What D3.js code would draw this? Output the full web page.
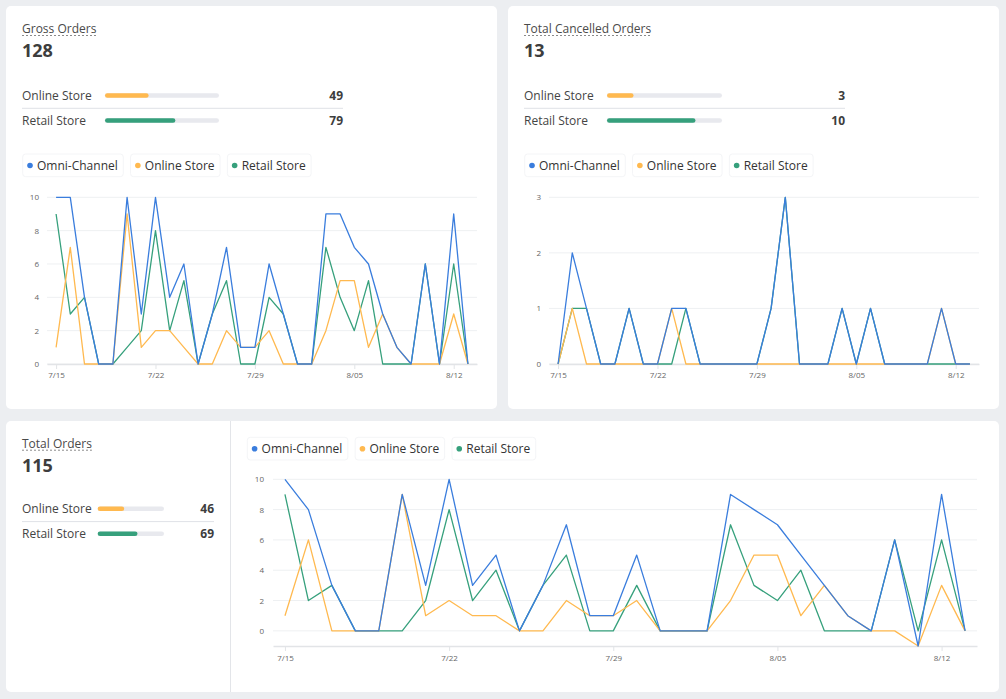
<!DOCTYPE html>
<html>
<head>
<meta charset="utf-8">
<script src="https://cdn.jsdelivr.net/npm/d3@7"></script>
<style>
body { margin: 0; background: #eceef1; font-family: "Open Sans", sans-serif; }
svg { display: block; }
</style>
</head>
<body>
<script>
var w = 1006;
var h = 699;

// categories
var days = ["7/15", "7/16", "7/17", "7/18", "7/19", "7/20", "7/21", "7/22", "7/23", "7/24",
            "7/25", "7/26", "7/27", "7/28", "7/29", "7/30", "7/31", "8/01", "8/02", "8/03",
            "8/04", "8/05", "8/06", "8/07", "8/08", "8/09", "8/10", "8/11", "8/12", "8/13"];
var tickDays = ["7/15", "7/22", "7/29", "8/05", "8/12"];
var seriesNames = ["Omni-Channel", "Online Store", "Retail Store"];
var stores = ["Online Store", "Retail Store"];

// gross orders per day
var grossOmni   = [10, 10, 4, 0, 0, 10, 3, 10, 4, 6, 0, 3, 7, 1, 1, 6, 3, 0, 0, 9, 9, 7, 6, 3, 1, 0, 6, 0, 9, 0];
var grossOnline = [1, 7, 0, 0, 0, 9, 1, 2, 2, 1, 0, 0, 2, 1, 1, 2, 0, 0, 0, 2, 5, 5, 1, 3, 1, 0, 0, 0, 3, 0];
var grossRetail = [9, 3, 4, 0, 0, 1, 2, 8, 2, 5, 0, 3, 5, 0, 0, 4, 3, 0, 0, 7, 4, 2, 5, 0, 0, 0, 6, 0, 6, 0];

// cancelled orders per day
var cancelOmni   = [0, 2, 1, 0, 0, 1, 0, 0, 1, 1, 0, 0, 0, 0, 0, 1, 3, 0, 0, 0, 1, 0, 1, 0, 0, 0, 0, 1, 0, 0];
var cancelOnline = [0, 1, 0, 0, 0, 0, 0, 0, 1, 0, 0, 0, 0, 0, 0, 0, 0, 0, 0, 0, 0, 0, 0, 0, 0, 0, 0, 1, 0, 0];
var cancelRetail = [0, 1, 1, 0, 0, 1, 0, 0, 0, 1, 0, 0, 0, 0, 0, 1, 3, 0, 0, 0, 1, 0, 1, 0, 0, 0, 0, 0, 0, 0];

// total (net) orders per day
var totalOmni   = [10, 8, 3, 0, 0, 9, 3, 10, 3, 5, 0, 3, 7, 1, 1, 5, 0, 0, 0, 9, 8, 7, 5, 3, 1, 0, 6, -1, 9, 0];
var totalOnline = [1, 6, 0, 0, 0, 9, 1, 2, 1, 1, 0, 0, 2, 1, 1, 2, 0, 0, 0, 2, 5, 5, 1, 3, 1, 0, 0, -1, 3, 0];
var totalRetail = [9, 2, 3, 0, 0, 0, 2, 8, 2, 4, 0, 3, 5, 0, 0, 3, 0, 0, 0, 7, 3, 2, 4, 0, 0, 0, 6, 0, 6, 0];

// summary numbers: total, online, retail
var grossSummary = [128, 49, 79];
var cancelSummary = [13, 3, 10];
var totalSummary = [115, 46, 69];

var colors = ["#3a7ddd", "#ffb94f", "#36a07c"];

var svg = d3.select("body")
    .append("svg")
    .attr("width", w)
    .attr("height", h);

function card(x, y, cw, ch) {
    svg.append("rect")
        .attr("x", x)
        .attr("y", y)
        .attr("width", cw)
        .attr("height", ch)
        .attr("rx", 5)
        .attr("fill", "#fff");
}

card(6, 6, 491, 403);
card(508, 6, 491, 403);
card(6, 421, 993, 271);

svg.append("line")
    .attr("x1", 230.5).attr("x2", 230.5)
    .attr("y1", 421).attr("y2", 692)
    .attr("stroke", "#e3e5e9");

function summary(x, y, title, nums, barX, barW, valueX, rowY) {
    var g = svg.append("g").attr("transform", "translate(" + x + "," + y + ")");

    var t = g.append("text")
        .attr("font-size", 12)
        .attr("fill", "#4a4a4a")
        .text(title);
    var tw = t.node().getComputedTextLength();

    g.append("line")
        .attr("x1", 0).attr("x2", tw)
        .attr("y1", 2.5).attr("y2", 2.5)
        .attr("stroke", "#8a8a8a")
        .attr("stroke-dasharray", "2,2");

    g.append("text")
        .attr("y", 24)
        .attr("font-size", 18)
        .attr("font-weight", 700)
        .attr("fill", "#3d3d3d")
        .text(nums[0]);

    var barScale = d3.scaleLinear().domain([0, nums[0]]).range([0, barW]);

    var rows = g.selectAll("g.row")
        .data(stores)
        .enter()
        .append("g")
        .attr("transform", function (d, i) {
            return "translate(0," + (rowY + i * 25) + ")";
        });

    rows.append("text")
        .attr("font-size", 12)
        .attr("fill", "#444")
        .text(function (d) { return d; });

    rows.append("rect")
        .attr("x", barX)
        .attr("y", -6.8)
        .attr("width", barW)
        .attr("height", 4.6)
        .attr("rx", 2.3)
        .attr("fill", "#e8e9ee");

    rows.append("rect")
        .attr("x", barX)
        .attr("y", -6.8)
        .attr("width", function (d, i) { return barScale(nums[i + 1]); })
        .attr("height", 4.6)
        .attr("rx", 2.3)
        .attr("fill", function (d, i) { return colors[i + 1]; });

    rows.append("text")
        .attr("x", valueX)
        .attr("font-size", 12)
        .attr("font-weight", 700)
        .attr("fill", "#3d3d3d")
        .attr("text-anchor", "end")
        .text(function (d, i) { return nums[i + 1]; });

    g.append("line")
        .attr("x1", 0).attr("x2", valueX)
        .attr("y1", rowY + 8.3).attr("y2", rowY + 8.3)
        .attr("stroke", "#dfe2e7");
}

summary(22, 33, "Gross Orders", grossSummary, 83, 114, 321, 67);
summary(524, 33, "Total Cancelled Orders", cancelSummary, 83, 115, 321, 67);
summary(22, 447.7, "Total Orders", totalSummary, 75.7, 66.3, 192, 65.6);

function legend(x, y) {
    var cx = x;
    seriesNames.forEach(function (name, i) {
        var g = svg.append("g").attr("transform", "translate(" + cx + "," + y + ")");
        var box = g.append("rect")
            .attr("y", 0)
            .attr("height", 22.7)
            .attr("rx", 3)
            .attr("fill", "#fff")
            .attr("stroke", "#f4f5f7");
        g.append("circle")
            .attr("cx", 7.3)
            .attr("cy", 11.5)
            .attr("r", 2.8)
            .attr("fill", colors[i]);
        var t = g.append("text")
            .attr("x", 14.3)
            .attr("y", 15.6)
            .attr("font-size", 12)
            .attr("fill", "#333")
            .text(name);
        var bw = 14.3 + t.node().getComputedTextLength() + 5.5;
        box.attr("width", bw);
        cx += bw + 7.3;
    });
}

legend(22.7, 154);
legend(524.7, 154);
legend(247.3, 437.3);

function lineChart(o) {
    var xScale = d3.scalePoint()
        .domain(days)
        .range([o.x0, o.x1])
        .padding(o.pad);

    var yScale = d3.scaleLinear()
        .domain(o.yDomain)
        .range([o.yBottom, o.yTop]);

    svg.append("g")
        .selectAll("line")
        .data(o.yTicks)
        .enter()
        .append("line")
        .attr("x1", o.x0)
        .attr("x2", o.x1)
        .attr("y1", function (d) { return yScale(d); })
        .attr("y2", function (d) { return yScale(d); })
        .attr("stroke", "#eef0f2");

    var yAxis = d3.axisLeft(yScale)
        .tickValues(o.yTicks)
        .tickFormat(d3.format("d"))
        .tickSize(0)
        .tickPadding(o.x0 - o.labelX);

    var gy = svg.append("g")
        .attr("transform", "translate(" + o.x0 + ",0)")
        .call(yAxis);
    gy.select(".domain").remove();
    gy.selectAll("text")
        .attr("font-family", "Open Sans")
        .attr("font-size", 8)
        .attr("fill", "#666");

    var xAxis = d3.axisBottom(xScale)
        .tickValues(tickDays)
        .tickSize(5)
        .tickSizeOuter(0)
        .tickPadding(o.tickPad);

    var gx = svg.append("g")
        .attr("transform", "translate(0," + o.yBottom + ")")
        .call(xAxis);
    gx.select(".domain").attr("stroke", "#e2e4e7").attr("stroke-width", 1.5);
    gx.selectAll(".tick line").attr("stroke", "#e2e4e7");
    gx.selectAll("text")
        .attr("font-family", "Open Sans")
        .attr("font-size", 8)
        .attr("fill", "#666");

    var line = d3.line()
        .x(function (d, i) { return xScale(days[i]); })
        .y(function (d) { return yScale(d); });

    // retail first, omni on top
    [2, 1, 0].forEach(function (k) {
        svg.append("path")
            .datum(o.series[k])
            .attr("d", line)
            .attr("fill", "none")
            .attr("stroke", colors[k])
            .attr("stroke-width", 1.3)
            .attr("stroke-linejoin", "round");
    });
}

lineChart({
    x0: 47, x1: 477, pad: 0.64, labelX: 39,
    yDomain: [0, 10], yTicks: [0, 2, 4, 6, 8, 10],
    yBottom: 364, yTop: 197.3, tickPad: 3,
    series: [grossOmni, grossOnline, grossRetail]
});

lineChart({
    x0: 549, x1: 979, pad: 0.64, labelX: 541,
    yDomain: [0, 3], yTicks: [0, 1, 2, 3],
    yBottom: 364, yTop: 197.3, tickPad: 3,
    series: [cancelOmni, cancelOnline, cancelRetail]
});

lineChart({
    x0: 273, x1: 977, pad: 0.51, labelX: 264,
    yDomain: [-1, 10], yTicks: [0, 2, 4, 6, 8, 10],
    yBottom: 646, yTop: 479.3, tickPad: 4,
    series: [totalOmni, totalOnline, totalRetail]
});
</script>
</body>
</html>
